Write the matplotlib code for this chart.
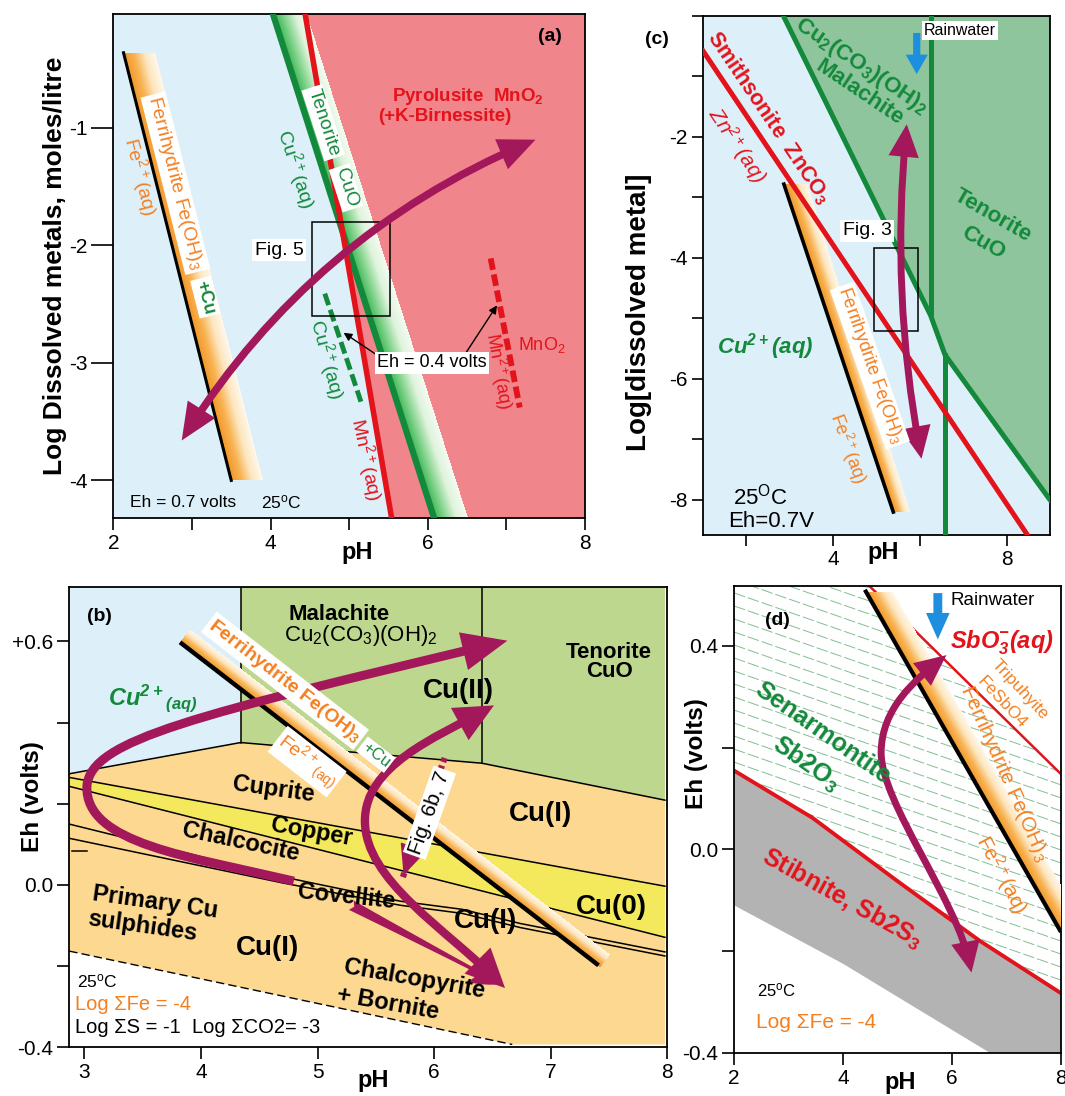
import numpy as np
import matplotlib
matplotlib.use("Agg")
import matplotlib.pyplot as plt
from matplotlib.patches import FancyArrowPatch, Rectangle, Polygon
from matplotlib.path import Path
from matplotlib.colors import LinearSegmentedColormap
from matplotlib.collections import LineCollection

plt.rcParams["font.family"] = ["Liberation Sans", "DejaVu Sans"]
plt.rcParams["mathtext.default"] = "regular"
plt.rcParams["axes.unicode_minus"] = False

# ---- (a) log dissolved metal vs pH, Eh = 0.7 V
a_ferri_ph, a_ferri_log = [2.13, 3.50], [-0.36, -4.00]
a_cuo_ph, a_cuo_log = [4.03, 6.08], [-0.03, -4.32]
a_mno2_ph, a_mno2_log = [4.44, 5.54], [-0.03, -4.32]
a_cu04_ph, a_cu04_log = [4.69, 5.15], [-2.41, -3.33]   # Cu2+ limit at Eh = 0.4 V
a_mn04_ph, a_mn04_log = [6.80, 7.17], [-2.11, -3.38]   # Mn2+ limit at Eh = 0.4 V
a_trend_ph, a_trend_log = [2.87, 7.37], [-3.66, -1.10]
a_fig5_ph, a_fig5_log = [4.525, 5.52], [-2.60, -1.80]

# ---- (c) log dissolved metal vs pH, Eh = 0.7 V
c_zn_ph, c_zn_log = [1.01, 8.50], [-0.58, -8.60]
c_mal_ph = [2.86, 6.25, 6.58, 9.0]
c_mal_log = [0.0, -4.95, -5.60, -8.0]
c_ferri_ph, c_ferri_log = [2.87, 5.39], [-2.78, -8.20]
c_trend_ph, c_trend_log = [5.70, 6.04], [-1.79, -7.32]
c_rain_ph, c_rain_log = [5.93, 5.93], [-0.28, -0.96]
c_fig3_ph, c_fig3_log = [4.945, 5.965], [-5.21, -3.84]

# ---- (b) Cu Eh-pH
b_cu2_ph = [2.87, 4.34, 6.41, 7.98]
b_cu2_eh = [0.274, 0.351, 0.300, 0.209]
b_copper_ph = [2.87, 7.98]
b_copper_top = [0.265, -0.003]
b_copper_bot = [0.243, -0.129]
b_sul_ph = [2.87, 4.70, 5.71, 6.24, 6.74, 7.98]
b_sul1_eh = [0.150, 0.020, -0.040, -0.060, -0.095, -0.165]
b_sul2_eh = [0.115, 0.005, -0.050, -0.070, -0.105, -0.175]
b_stub_ph, b_stub_eh = [2.89, 3.02], [0.083, 0.083]
b_lim_ph, b_lim_eh = [2.87, 6.67], [-0.163, -0.393]
b_ferri_ph, b_ferri_eh = [3.82, 7.41], [0.598, -0.198]
b_loop_ph = [4.796, 3.902, 3.004, 3.021, 3.047, 3.987, 6.628]
b_loop_eh = [0.0095, 0.070, 0.102, 0.243, 0.359, 0.420, 0.602]
b_c_ph = [6.513, 6.000, 5.406, 5.406, 5.406, 6.096, 6.608]
b_c_eh = [0.4425, 0.362, 0.293, 0.158, 0.0115, -0.107, -0.254]
b_cov_ph, b_cov_eh = [5.29, 6.58], [-0.05, -0.245]
b_fig6_ph, b_fig6_eh = [6.09, 5.73], [0.313, 0.018]

# ---- (d) Sb Eh-pH
d_stib_ph = [2.0, 3.44, 4.98, 6.51, 8.0]
d_stib_eh = [0.155, 0.062, -0.061, -0.180, -0.283]
d_low_ph, d_low_eh = [2.0, 4.0, 6.69], [-0.11, -0.225, -0.40]
d_trip_ph, d_trip_eh = [4.485, 8.0], [0.518, 0.148]
d_ferri_ph, d_ferri_eh = [4.42, 7.98], [0.507, -0.159]
d_trend_ph = [5.897, 5.344, 4.700, 4.700, 4.700, 6.099, 6.357]
d_trend_eh = [0.382, 0.335, 0.278, 0.190, 0.0915, -0.101, -0.2425]
d_rain_ph, d_rain_eh = [5.74, 5.74], [0.504, 0.413]

BLUE = "#ddf0fa"
PINK = "#f0858b"
DKGREEN = "#13893b"
RED = "#e3131b"
ORANGE = "#f47f20"
PURPLE = "#a3185b"
RAIN = "#1e8fdf"

cm_orange = LinearSegmentedColormap.from_list("ferri", ["#f39526", "#f8b352", "#fde6bf", "#fff8ec"])
cm_green = LinearSegmentedColormap.from_list("cuo", ["#35b24e", "#86d58f", "#dff3dc", "#f3fbf1"])

W, H = 1065, 1096
fig = plt.figure(figsize=(W / 100, H / 100), dpi=100)


def add_ax(l, t, r, b):
    return fig.add_axes([l / W, 1 - b / H, (r - l) / W, (b - t) / H])


def ftext(px, py, s, **kw):
    fig.text(px / W, 1 - py / H, s, ha="center", va="center", **kw)


def put(ax, x, y, s, size=14, color="black", rot=0, box=False, **kw):
    bb = dict(boxstyle="square,pad=0.12", fc="white", ec="none") if box else None
    ax.text(x, y, s, fontsize=size, color=color, rotation=rot, rotation_mode="anchor",
            ha=kw.pop("ha", "center"), va=kw.pop("va", "center"), bbox=bb,
            zorder=kw.pop("zorder", 8), **kw)


def grad_band(ax, xs, ys, w0, w1, cmap, z, flat=True):
    # shaded band on the upper-right side of a boundary line, widths in pixels
    p0 = ax.transData.transform((xs[0], ys[0]))
    p1 = ax.transData.transform((xs[1], ys[1]))
    bb = ax.bbox
    nx, ny = int(round(bb.width)), int(round(bb.height))
    gx = bb.x0 + (np.arange(nx) + 0.5) * bb.width / nx
    gy = bb.y0 + (np.arange(ny) + 0.5) * bb.height / ny
    X, Y = np.meshgrid(gx, gy)
    if flat:
        f = (Y - p0[1]) / (p1[1] - p0[1])
        xl = p0[0] + f * (p1[0] - p0[0])
        t = (X - xl) / (w0 + (w1 - w0) * np.clip(f, 0, 1))
    else:
        d = p1 - p0
        L = np.hypot(*d)
        u = d / L
        n = np.array([-u[1], u[0]])
        f = ((X - p0[0]) * u[0] + (Y - p0[1]) * u[1]) / L
        t = ((X - p0[0]) * n[0] + (Y - p0[1]) * n[1]) / (w0 + (w1 - w0) * np.clip(f, 0, 1))
    rgba = cmap(np.clip(t, 0, 1))
    rgba[..., 3] = ((f >= 0) & (f <= 1) & (t >= 0) & (t <= 1)).astype(float)
    ax.imshow(rgba, extent=(0, 1, 0, 1), transform=ax.transAxes, origin="lower",
              aspect="auto", interpolation="bilinear", zorder=z)


def purple(ax, xs, ys, style, lw, z=6, **kw):
    p = FancyArrowPatch((xs[0], ys[0]), (xs[-1], ys[-1]), arrowstyle=style, lw=lw,
                        color=PURPLE, shrinkA=0, shrinkB=0, joinstyle="miter",
                        capstyle="butt", zorder=z, **kw)
    ax.add_patch(p)


def purple_path(ax, xs, ys, style, lw, z=6):
    codes = [Path.MOVETO] + [Path.CURVE4] * (len(xs) - 1)
    p = FancyArrowPatch(path=Path(np.column_stack([xs, ys]), codes), arrowstyle=style,
                        lw=lw, color=PURPLE, joinstyle="miter", capstyle="butt", zorder=z)
    ax.add_patch(p)


def frame(ax, lw=1.3):
    for s in ax.spines.values():
        s.set_linewidth(lw)
    ax.tick_params(direction="out", width=1.2, labelsize=15, pad=3)


# ================= (a)
axA = add_ax(113.3, 14, 585, 518)
axA.set_xlim(2, 8)
axA.set_ylim(-4.32, -0.03)
axA.set_facecolor(BLUE)
axA.fill([a_mno2_ph[0], a_mno2_ph[1], 8, 8], [a_mno2_log[0], a_mno2_log[1], -4.32, -0.03],
         color=PINK, lw=0, zorder=1)
grad_band(axA, a_cuo_ph, a_cuo_log, 34, 34, cm_green, 2)
axA.plot(a_cuo_ph, a_cuo_log, color=DKGREEN, lw=4.5, zorder=3)
axA.plot(a_mno2_ph, a_mno2_log, color=RED, lw=4.0, zorder=3.5)
grad_band(axA, a_ferri_ph, a_ferri_log, 32, 32, cm_orange, 2)
axA.plot(a_ferri_ph, a_ferri_log, color="black", lw=2.2, zorder=3)
axA.plot(a_cu04_ph, a_cu04_log, color=DKGREEN, lw=3.5, ls=(0, (2.5, 1)), zorder=3)
axA.plot(a_mn04_ph, a_mn04_log, color=RED, lw=4.2, ls=(0, (2, 0.8)), zorder=3)
axA.add_patch(Rectangle((a_fig5_ph[0], a_fig5_log[0]), a_fig5_ph[1] - a_fig5_ph[0],
                        a_fig5_log[1] - a_fig5_log[0], fill=False, ec="black", lw=1.1, zorder=5))
purple(axA, a_trend_ph, a_trend_log, "<|-|>,head_length=17,head_width=7.5", 5.5,
       connectionstyle="arc3,rad=-0.155")
axA.annotate("", xy=(4.90, -2.73), xytext=(5.37, -2.94),
             arrowprops=dict(arrowstyle="-|>", color="black", lw=1.0, mutation_scale=12), zorder=7)
axA.annotate("", xy=(6.90, -2.49), xytext=(6.46, -2.94),
             arrowprops=dict(arrowstyle="-|>", color="black", lw=1.0, mutation_scale=12), zorder=7)

put(axA, 7.55, -0.22, "(a)", 14, weight="bold")
put(axA, 6.51, -0.735, "Pyrolusite  MnO$_2$", 13.5, RED, weight="bold")
put(axA, 6.21, -0.90, "(+K-Birnessite)", 13.5, RED, weight="bold")
put(axA, 2.79, -1.47, "Ferrihydrite Fe(OH)$_3$", 14, ORANGE, -75.8, box=True)
put(axA, 3.17, -2.44, "+Cu", 13, DKGREEN, -75.8, box=True, weight="bold")
put(axA, 2.35, -1.41, "Fe$^{2+}$(aq)", 14, ORANGE, -75.8)
put(axA, 4.67, -0.955, "Tenorite", 14, DKGREEN, -72, box=True)
put(axA, 4.96, -1.51, "CuO", 14, DKGREEN, -72, box=True)
put(axA, 4.33, -1.35, "Cu$^{2+}$(aq)", 14, DKGREEN, -72)
put(axA, 4.72, -2.97, "Cu$^{2+}$(aq)", 14, DKGREEN, -75)
put(axA, 5.22, -3.82, "Mn$^{2+}$(aq)", 14, RED, -78)
put(axA, 6.90, -3.07, "Mn$^{2+}$(aq)", 13, RED, -80)
put(axA, 7.45, -2.85, "MnO$_2$", 13, RED)
put(axA, 4.11, -2.04, "Fig. 5", 14, box=True)
put(axA, 6.05, -3.00, "Eh = 0.4 volts", 13, box=True)
put(axA, 2.21, -4.19, "Eh = 0.7 volts", 12.5, ha="left")
put(axA, 3.875, -4.19, "25$^{o}$C", 12.5, ha="left")

axA.set_xticks([2, 3, 4, 5, 6, 7, 8])
axA.set_xticklabels(["2", "", "4", "", "6", "", "8"])
axA.set_yticks([-1, -2, -3, -4])
axA.set_yticklabels(["-1", "-2", "-3", "-4"])
frame(axA)
axA.tick_params(axis="y", length=15.5)
axA.tick_params(axis="x", length=8.5)

# ================= (c)
axC = add_ax(702.7, 16, 1050, 535)
axC.set_xlim(1, 9)
axC.set_ylim(-8.58, 0)
axC.set_facecolor(BLUE)
axC.fill(c_mal_ph + [9.0], c_mal_log + [0.0], color="#8ec59c", lw=0, zorder=1)
axC.plot(c_mal_ph, c_mal_log, color=DKGREEN, lw=3.6, zorder=3)
axC.plot([c_mal_ph[1], c_mal_ph[1]], [0.0, c_mal_log[1]], color=DKGREEN, lw=3.6, zorder=3)
axC.plot([c_mal_ph[2], c_mal_ph[2]], [c_mal_log[2], -8.58], color=DKGREEN, lw=3.6, zorder=3)
axC.plot(c_zn_ph, c_zn_log, color=RED, lw=3.6, zorder=4)
grad_band(axC, c_ferri_ph, c_ferri_log, 23, 16, cm_orange, 2)
axC.plot(c_ferri_ph, c_ferri_log, color="black", lw=2.6, zorder=3)
axC.add_patch(Rectangle((c_fig3_ph[0], c_fig3_log[0]), c_fig3_ph[1] - c_fig3_ph[0],
                        c_fig3_log[1] - c_fig3_log[0], fill=False, ec="black", lw=1.1, zorder=5))
purple(axC, c_trend_ph, c_trend_log, "<|-|>,head_length=15,head_width=7", 5,
       connectionstyle="arc3,rad=0.07")
axC.add_patch(FancyArrowPatch((c_rain_ph[0], c_rain_log[0]), (c_rain_ph[1], c_rain_log[1]),
                              arrowstyle="simple,head_length=0.7,head_width=0.8,tail_width=0.26",
                              mutation_scale=20, color=RAIN, lw=0, shrinkA=0, shrinkB=0, zorder=6))

put(axC, 2.53, -1.69, "Smithsonite  ZnCO$_3$", 15.5, RED, -56, weight="bold")
put(axC, 1.78, -2.13, "Zn$^{2+}$(aq)", 15, RED, -56, style="italic")
put(axC, 4.66, -0.82, "Cu$_2$(CO$_3$)(OH)$_2$", 16, DKGREEN, -34, weight="bold")
put(axC, 4.62, -1.27, "Malachite", 16, DKGREEN, -34, weight="bold")
put(axC, 7.69, -3.30, "Tenorite", 16, DKGREEN, -30, weight="bold")
put(axC, 7.46, -3.75, "CuO", 16, DKGREEN, -30, weight="bold")
put(axC, 2.43, -5.46, "Cu$^{2+}$(aq)", 16, DKGREEN, weight="bold", style="italic")
put(axC, 4.85, -5.78, "Ferrihydrite Fe(OH)$_3$", 13, ORANGE, -70.6, box=True)
put(axC, 4.35, -7.15, "Fe$^{2+}$(aq)", 13, ORANGE, -70)
put(axC, 4.79, -3.55, "Fig. 3", 14, box=True)
put(axC, 6.92, -0.24, "Rainwater", 11.5, box=True)
put(axC, 2.34, -7.95, "25$^{O}$C", 16)
put(axC, 2.57, -8.36, "Eh=0.7V", 16)

axC.set_xticks([2, 4, 6, 8])
axC.set_xticklabels(["", "4", "", "8"])
axC.set_yticks([0, -1, -2, -3, -4, -5, -6, -7, -8])
axC.set_yticklabels(["", "", "-2", "", "-4", "", "-6", "", "-8"])
frame(axC)
axC.tick_params(length=8)

# ================= (b)
axB = add_ax(69.3, 586.7, 667.3, 1047.3)
axB.set_xlim(2.87, 7.98)
axB.set_ylim(-0.393, 0.735)
axB.set_facecolor("white")
axB.fill([2.87, 4.34, 4.34, 2.87], [0.735, 0.735, b_cu2_eh[1], b_cu2_eh[0]],
         color=BLUE, lw=0, zorder=1)
axB.fill([4.34, 7.98] + b_cu2_ph[::-1][:3], [0.735, 0.735] + b_cu2_eh[::-1][:3],
         color="#bed78e", lw=0, zorder=1)
axB.fill(b_cu2_ph + [7.98, b_lim_ph[1], b_lim_ph[0]],
         b_cu2_eh + [-0.393, b_lim_eh[1], b_lim_eh[0]], color="#fcd891", lw=0, zorder=1)
axB.fill(b_copper_ph + b_copper_ph[::-1], b_copper_top + b_copper_bot[::-1],
         color="#f4e95c", lw=0, zorder=1.5)
axB.plot(b_cu2_ph, b_cu2_eh, color="black", lw=1.1, zorder=2)
axB.plot([4.34, 4.34], [b_cu2_eh[1], 0.735], color="black", lw=1.1, zorder=2)
axB.plot([6.41, 6.41], [b_cu2_eh[2], 0.735], color="black", lw=1.1, zorder=2)
axB.plot(b_copper_ph, b_copper_top, color="black", lw=1.1, zorder=2)
axB.plot(b_copper_ph, b_copper_bot, color="black", lw=1.1, zorder=2)
axB.plot(b_sul_ph, b_sul1_eh, color="black", lw=1.1, zorder=2)
axB.plot(b_sul_ph, b_sul2_eh, color="black", lw=1.1, zorder=2)
axB.plot(b_stub_ph, b_stub_eh, color="black", lw=1.1, zorder=2)
axB.plot(b_lim_ph, b_lim_eh, color="black", lw=1.0, ls=(0, (6, 3)), zorder=2)
grad_band(axB, b_ferri_ph, b_ferri_eh, 16, 16, cm_orange, 3, flat=False)
axB.plot(b_ferri_ph, b_ferri_eh, color="black", lw=3.2, zorder=3.5, solid_capstyle="butt")

purple_path(axB, b_loop_ph, b_loop_eh, "-|>,head_length=21,head_width=9", 6.5)
purple_path(axB, b_c_ph, b_c_eh, "<|-|>,head_length=18,head_width=8.5", 6)
axB.add_patch(FancyArrowPatch((b_cov_ph[0], b_cov_eh[0]), (b_cov_ph[1], b_cov_eh[1]),
                              arrowstyle="fancy,head_length=0.9,head_width=0.8,tail_width=0.3",
                              mutation_scale=25, color=PURPLE, lw=0, shrinkA=0, shrinkB=0, zorder=6))
axB.plot(b_fig6_ph, b_fig6_eh, color=PURPLE, lw=4.5, ls=(0, (0.7, 0.6)), zorder=6)
axB.annotate("", xy=(b_fig6_ph[1], b_fig6_eh[1]),
             xytext=(b_fig6_ph[1] + 0.1 * (b_fig6_ph[0] - b_fig6_ph[1]),
                     b_fig6_eh[1] + 0.1 * (b_fig6_eh[0] - b_fig6_eh[1])),
             arrowprops=dict(arrowstyle="-|>,head_length=1.1,head_width=0.5", color=PURPLE,
                             lw=1, mutation_scale=18), zorder=6)

put(axB, 3.13, 0.661, "(b)", 14, weight="bold")
put(axB, 5.18, 0.667, "Malachite", 16, weight="bold")
put(axB, 5.37, 0.615, "Cu$_2$(CO$_3$)(OH)$_2$", 16)
put(axB, 7.50, 0.572, "Tenorite", 16, weight="bold")
put(axB, 7.50, 0.525, "CuO", 16, weight="bold")
put(axB, 6.21, 0.477, "Cu(II)", 20, weight="bold")
put(axB, 6.91, 0.174, "Cu(I)", 20, weight="bold")
put(axB, 7.52, -0.055, "Cu(0)", 20, weight="bold")
put(axB, 6.44, -0.090, "Cu(I)", 20, weight="bold")
put(axB, 4.57, -0.155, "Cu(I)", 20, weight="bold")
put(axB, 3.59, 0.460, "Cu$^{2+}$$_{(aq)}$", 17, DKGREEN, weight="bold", style="italic")
put(axB, 4.62, 0.235, "Cuprite", 17, rot=-8, weight="bold")
put(axB, 4.95, 0.131, "Copper", 17, rot=-10, weight="bold")
put(axB, 4.34, 0.105, "Chalcocite", 17, rot=-12, weight="bold")
put(axB, 5.25, -0.030, "Covellite", 17, rot=-6, weight="bold")
put(axB, 3.61, -0.042, "Primary Cu", 17, rot=-8, weight="bold")
put(axB, 3.50, -0.103, "sulphides", 17, rot=-8, weight="bold")
put(axB, 5.83, -0.233, "Chalcopyrite", 17, rot=-10, weight="bold")
put(axB, 5.60, -0.293, "+ Bornite", 17, rot=-10, weight="bold")
put(axB, 4.72, 0.503, "Ferrihydrite Fe(OH)$_3$", 14, ORANGE, -37.8, box=True, weight="bold")
put(axB, 5.50, 0.321, "+Cu", 12, DKGREEN, -37.8, box=True)
put(axB, 4.91, 0.304, "Fe$^{2+}$$_{(aq)}$", 14, ORANGE, -37.8, box=True)
put(axB, 5.96, 0.178, "Fig. 6b, 7", 15, rot=70.5, box=True)
put(axB, 2.94, -0.237, "25$^{o}$C", 12.5, ha="left")
put(axB, 2.92, -0.294, "Log \u03a3Fe = -4", 14.5, ORANGE, ha="left")
put(axB, 2.92, -0.351, "Log \u03a3S = -1  Log \u03a3CO2= -3", 14.5, ha="left")

axB.set_xticks([3, 4, 5, 6, 7, 8])
axB.set_yticks([-0.4, -0.2, 0.0, 0.2, 0.4, 0.6])
axB.set_yticklabels(["-0.4", "", "0.0", "", "", "+0.6"])
frame(axB)
axB.tick_params(length=8.5)

# ================= (d)
axD = add_ax(734, 586, 1061, 1052.7)
axD.set_xlim(2, 8)
axD.set_ylim(-0.4, 0.518)
axD.set_facecolor("white")
hatch_ph = [2.0, d_trip_ph[0], d_trip_ph[1], 8.0] + d_stib_ph[::-1]
hatch_eh = [0.518, d_trip_eh[0], d_trip_eh[1], d_stib_eh[-1]] + d_stib_eh[::-1]
clip = Polygon(np.column_stack([hatch_ph, hatch_eh]), closed=True, fc="none", ec="none")
axD.add_patch(clip)
segs = [[(2.0, c), (8.0, c - 0.224)] for c in np.arange(-0.75, 0.80, 0.0256)]
lc = LineCollection(segs, colors="#80bf92", linewidths=0.7, linestyles=[(0, (12, 3))], zorder=1)
lc.set_clip_path(clip)
axD.add_collection(lc, autolim=False)
axD.fill(d_stib_ph + [8.0] + d_low_ph[::-1], d_stib_eh + [-0.4] + d_low_eh[::-1],
         color="#b3b3b3", lw=0, zorder=1.5)
axD.plot(d_stib_ph, d_stib_eh, color=RED, lw=2.8, zorder=2)
axD.plot(d_trip_ph, d_trip_eh, color=RED, lw=1.8, zorder=2)
grad_band(axD, d_ferri_ph, d_ferri_eh, 27, 27, cm_orange, 3)
axD.plot(d_ferri_ph, d_ferri_eh, color="black", lw=3.0, zorder=3.5)
purple_path(axD, d_trend_ph, d_trend_eh, "<|-|>,head_length=14,head_width=6.5", 5)
axD.add_patch(FancyArrowPatch((d_rain_ph[0], d_rain_eh[0]), (d_rain_ph[1], d_rain_eh[1]),
                              arrowstyle="simple,head_length=0.95,head_width=0.85,tail_width=0.32",
                              mutation_scale=20, color=RAIN, lw=0, shrinkA=0, shrinkB=0, zorder=6))

put(axD, 2.80, 0.451, "(d)", 14, weight="bold")
put(axD, 5.97, 0.490, "Rainwater", 13.5, ha="left")
put(axD, 6.91, 0.406, "SbO$_3^{-}$(aq)", 17, RED, weight="bold", style="italic")
put(axD, 7.25, 0.315, "Tripuhyite", 12.5, ORANGE, -47)
put(axD, 6.91, 0.288, "FeSbO4", 12.5, ORANGE, -47)
put(axD, 6.96, 0.150, "Ferrihydrite Fe(OH)$_3$", 15, ORANGE, -66)
put(axD, 6.90, -0.050, "Fe$^{2+}$(aq)", 15, ORANGE, -62)
put(axD, 3.63, 0.228, "Senarmontite", 18, DKGREEN, -35, weight="bold")
put(axD, 3.32, 0.169, "Sb2O$_3$", 18, DKGREEN, -35, weight="bold")
put(axD, 3.99, -0.096, "Stibnite, Sb2S$_3$", 18, RED, -29, weight="bold")
put(axD, 2.43, -0.278, "25$^{o}$C", 12, ha="left")
put(axD, 2.41, -0.340, "Log \u03a3Fe = -4", 15, ORANGE, ha="left")

axD.set_xticks([2, 4, 6, 8])
axD.set_yticks([-0.4, -0.2, 0.0, 0.2, 0.4])
axD.set_yticklabels(["-0.4", "", "0.0", "", "0.4"])
frame(axD)
axD.tick_params(length=8.5)

# axis titles
ftext(55, 266, "Log Dissolved metals, moles/litre", rotation=90, fontsize=19, fontweight="bold")
ftext(639, 312, "Log[dissolved metal]", rotation=90, fontsize=20, fontweight="bold")
ftext(33, 797, "Eh (volts)", rotation=90, fontsize=17.5, fontweight="bold")
ftext(697, 754, "Eh (volts)", rotation=90, fontsize=17.5, fontweight="bold")
ftext(357, 553, "pH", fontsize=17, fontweight="bold")
ftext(883, 553, "pH", fontsize=17, fontweight="bold")
ftext(373, 1080, "pH", fontsize=17, fontweight="bold")
ftext(900, 1083, "pH", fontsize=17, fontweight="bold")
ftext(657, 39, "(c)", fontsize=14, fontweight="bold")

fig.savefig("out.png", dpi=100)
